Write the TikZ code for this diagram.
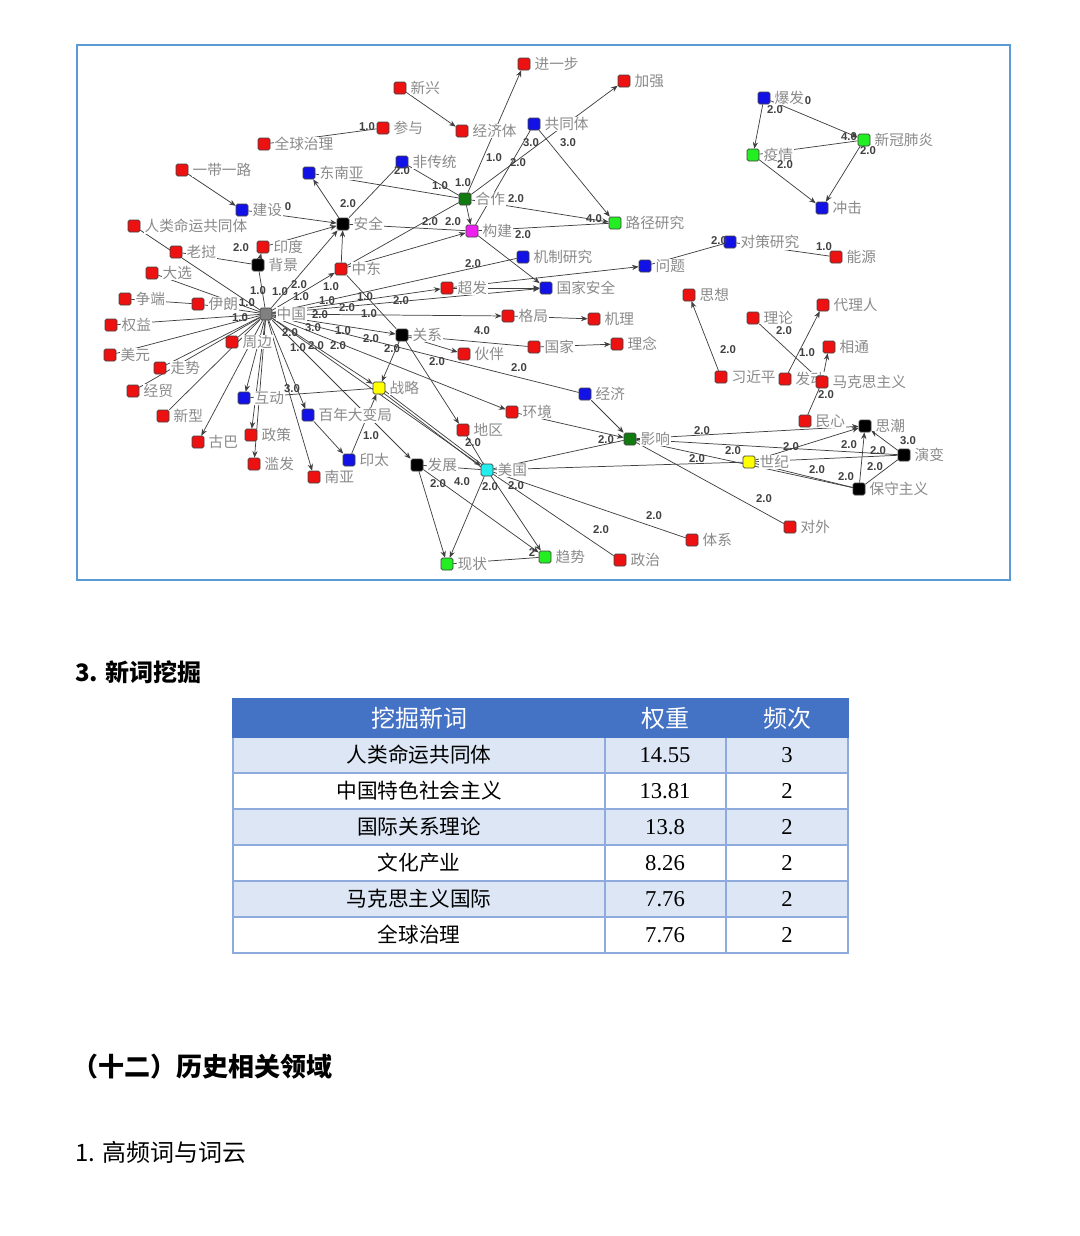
\documentclass[tikz,border=0pt]{standalone}
\usepackage{fontspec}
\setmainfont{Liberation Serif}
\newfontfamily\cjk{Noto Sans CJK SC}
\newfontfamily\wtf{Liberation Sans}
\usetikzlibrary{arrows.meta}
\definecolor{nred}{HTML}{EE1111}
\definecolor{nblue}{HTML}{1212E6}
\definecolor{ngreen}{HTML}{22EE22}
\definecolor{ndgreen}{HTML}{117A11}
\definecolor{nmag}{HTML}{EE22EE}
\definecolor{nblack}{HTML}{000000}
\definecolor{ngray}{HTML}{808080}
\definecolor{nyel}{HTML}{FFFF00}
\definecolor{ncyan}{HTML}{22EEEE}
\definecolor{framec}{HTML}{5B9BD5}
\definecolor{thead}{HTML}{4472C4}
\definecolor{tlight}{HTML}{DCE6F4}
\definecolor{tline}{HTML}{8FAADC}
\definecolor{lblc}{HTML}{8A8A8A}
\definecolor{edc}{HTML}{404040}
\pgfdeclarelayer{bg}\pgfdeclarelayer{lab}\pgfsetlayers{bg,lab,main}
\tikzset{
 nsq/.style={rectangle, rounded corners=1.2pt, minimum size=9pt, inner sep=0pt, draw=black!75, line width=0.5pt},
 lbl/.style={anchor=west, font=\cjk\fontsize{11pt}{11pt}\selectfont, text=lblc, fill=white, inner sep=0.5pt},
 wt/.style={font=\wtf\bfseries\fontsize{8.5pt}{8.5pt}\selectfont, text=black!75, inner sep=0pt},
 ed/.style={draw=edc, line width=0.55pt},
 ar/.style={ed, -{Stealth[length=5pt,width=4pt]}},
 hd/.style={anchor=west, font=\cjk\bfseries\fontsize{18pt}{18pt}\selectfont, inner sep=0pt},
 th/.style={font=\cjk\fontsize{18pt}{18pt}\selectfont, text=white, inner sep=0pt},
 tc/.style={font=\cjk\fontsize{15.5pt}{16pt}\selectfont, inner sep=0pt},
 tn/.style={font=\fontsize{17pt}{17pt}\selectfont, inner sep=0pt},
}
\newcommand\mknode[5]{%
 \node[nsq,fill=#4] (#1) at (#2,#3) {};
 \begin{pgfonlayer}{lab}\node[lbl] (#1-t) at ([xshift=2.5pt]#1.east) {#5};\end{pgfonlayer}}
\newcommand\Ed[2]{\draw[ed] (#1) -- (#2);}
\newcommand\Ar[2]{\draw[ar] (#1) -- (#2);}
\newcommand\Wt[4]{\node[wt] (#1) at (#2,#3) {#4};}
\begin{document}
\begin{tikzpicture}[x=0.75pt,y=-0.75pt]
\useasboundingbox (0,0) rectangle (1080,1236);
\draw[framec, line width=1.5pt] (77,45) rectangle (1010,580);
% red nodes
\mknode{xinxing}{400}{88}{nred}{新兴}
\mknode{jinyibu}{524}{64}{nred}{进一步}
\mknode{jiaqiang}{624}{81}{nred}{加强}
\mknode{canyu}{383}{128}{nred}{参与}
\mknode{jjt}{462}{131}{nred}{经济体}
\mknode{qqzl}{264}{144}{nred}{全球治理}
\mknode{ydyl}{182}{170}{nred}{一带一路}
\mknode{rlmy}{134}{226}{nred}{人类命运共同体}
\mknode{laowo}{176}{252}{nred}{老挝}
\mknode{yindu}{263}{247}{nred}{印度}
\mknode{daxuan}{152}{273}{nred}{大选}
\mknode{zhongdong}{341}{269}{nred}{中东}
\mknode{zhengduan}{125}{299}{nred}{争端}
\mknode{yilang}{198}{304}{nred}{伊朗}
\mknode{chaofa}{447}{288}{nred}{超发}
\mknode{quanyi}{111}{325}{nred}{权益}
\mknode{geju}{508}{316}{nred}{格局}
\mknode{jili}{594}{319}{nred}{机理}
\mknode{zhoubian}{232}{342}{nred}{周边}
\mknode{meiyuan}{110}{355}{nred}{美元}
\mknode{huoban}{464}{354}{nred}{伙伴}
\mknode{guojia}{534}{347}{nred}{国家}
\mknode{linian}{617}{344}{nred}{理念}
\mknode{zoushi}{160}{368}{nred}{走势}
\mknode{jingmao}{133}{391}{nred}{经贸}
\mknode{xinxing2}{163}{416}{nred}{新型}
\mknode{guba}{198}{442}{nred}{古巴}
\mknode{zhengce}{251}{435}{nred}{政策}
\mknode{lanfa}{254}{464}{nred}{滥发}
\mknode{nanya}{314}{477}{nred}{南亚}
\mknode{diqu}{463}{430}{nred}{地区}
\mknode{huanjing}{512}{412}{nred}{环境}
\mknode{tixi}{692}{540}{nred}{体系}
\mknode{zhengzhi}{620}{560}{nred}{政治}
\mknode{duiwai}{790}{527}{nred}{对外}
\mknode{nengyuan}{836}{257}{nred}{能源}
\mknode{sixiang}{689}{295}{nred}{思想}
\mknode{dailiren}{823}{305}{nred}{代理人}
\mknode{lilun}{753}{318}{nred}{理论}
\mknode{xiangtong}{829}{347}{nred}{相通}
\mknode{xjp}{721}{377}{nred}{习近平}
\mknode{fadong}{785}{379}{nred}{发动}
\mknode{mkszy}{822}{382}{nred}{马克思主义}
\mknode{minxin}{805}{421}{nred}{民心}
% blue nodes
\mknode{gongtongti}{534}{124}{nblue}{共同体}
\mknode{feichuantong}{402}{162}{nblue}{非传统}
\mknode{dongnanya}{309}{173}{nblue}{东南亚}
\mknode{jianshe}{242}{210}{nblue}{建设}
\mknode{jzyj}{523}{257}{nblue}{机制研究}
\mknode{wenti}{645}{266}{nblue}{问题}
\mknode{gjaq}{546}{288}{nblue}{国家安全}
\mknode{jingji}{585}{394}{nblue}{经济}
\mknode{hudong}{244}{398}{nblue}{互动}
\mknode{bndbj}{308}{415}{nblue}{百年大变局}
\mknode{yintai}{349}{460}{nblue}{印太}
\mknode{baofa}{764}{98}{nblue}{爆发}
\mknode{chongji}{822}{208}{nblue}{冲击}
\mknode{dcyj}{730}{242}{nblue}{对策研究}
% green nodes
\mknode{ljyj}{615}{223}{ngreen}{路径研究}
\mknode{yiqing}{753}{155}{ngreen}{疫情}
\mknode{xgfy}{864}{140}{ngreen}{新冠肺炎}
\mknode{xianzhuang}{447}{564}{ngreen}{现状}
\mknode{qushi}{545}{557}{ngreen}{趋势}
% other colours
\mknode{hezuo}{465}{199}{ndgreen}{合作}
\mknode{yingxiang}{630}{439}{ndgreen}{影响}
\mknode{goujian}{472}{231}{nmag}{构建}
\mknode{anquan}{343}{224}{nblack}{安全}
\mknode{beijing}{258}{265}{nblack}{背景}
\mknode{guanxi}{402}{335}{nblack}{关系}
\mknode{fazhan}{417}{465}{nblack}{发展}
\mknode{sichao}{865}{426}{nblack}{思潮}
\mknode{yanbian}{904}{455}{nblack}{演变}
\mknode{bszy}{859}{489}{nblack}{保守主义}
\mknode{zhongguo}{266}{314}{ngray}{中国}
\mknode{zhanlue}{379}{388}{nyel}{战略}
\mknode{shiji}{749}{462}{nyel}{世纪}
\mknode{meiguo}{487}{470}{ncyan}{美国}
% edges
\begin{pgfonlayer}{bg}
\Ar{xinxing}{jjt}
\Ar{hezuo}{jinyibu}
\Ar{hezuo}{jiaqiang}
\Ed{goujian}{gongtongti}
\Ar{gongtongti}{ljyj}
\Ar{hezuo}{ljyj}
\Ed{goujian}{ljyj}
\Ed{feichuantong}{hezuo}
\Ed{anquan}{feichuantong}
\Ed{dongnanya}{hezuo}
\Ar{anquan}{dongnanya}
\Ar{ydyl}{jianshe}
\Ar{jianshe}{anquan}
\Ed{anquan}{goujian}
\Ed{zhongdong}{hezuo}
\Ar{zhongdong}{goujian}
\Ar{goujian}{gjaq}
\Ar{hezuo}{goujian}
\Ed{zhongguo}{jzyj}
\Ar{chaofa}{gjaq}
\Ar{chaofa}{wenti}
\Ar{zhongguo}{chaofa}
\Ar{zhongguo}{gjaq}
\Ar{zhongguo}{geju}
\Ar{geju}{jili}
\Ed{guanxi}{guojia}
\Ar{guojia}{linian}
\Ar{guanxi}{huoban}
\Ar{zhongguo}{guanxi}
\Ar{guanxi}{zhanlue}
\Ar{guanxi}{diqu}
\Ed{zhongguo}{jingji}
\Ar{zhongguo}{huanjing}
\Ar{jingji}{yingxiang}
\Ar{huanjing}{yingxiang}
\Ed{meiguo}{yingxiang}
\Ed{meiguo}{shiji}
\Ar{yingxiang}{sichao}
\Ed{yingxiang}{yanbian}
\Ed{yingxiang}{bszy}
\Ed{yingxiang}{duiwai}
\Ar{shiji}{sichao}
\Ed{shiji}{yanbian}
\Ed{shiji}{bszy}
\Ar{bszy}{sichao}
\Ar{yanbian}{sichao}
\Ed{yanbian}{bszy}
\Ed{minxin}{mkszy}
\Ar{mkszy}{xiangtong}
\Ar{xjp}{sixiang}
\Ar{fadong}{dailiren}
\Ed{lilun}{mkszy}
\Ed{wenti}{dcyj}
\Ed{dcyj}{nengyuan}
\Ar{baofa}{yiqing}
\Ar{baofa}{xgfy}
\Ed{yiqing}{xgfy}
\Ar{yiqing}{chongji}
\Ar{xgfy}{chongji}
\Ar{meiguo}{xianzhuang}
\Ar{fazhan}{xianzhuang}
\Ar{meiguo}{qushi}
\Ar{fazhan}{qushi}
\Ed{xianzhuang}{qushi}
\Ed{meiguo}{zhengzhi}
\Ed{meiguo}{tixi}
\draw[ar] ([yshift=1.2pt]zhanlue.center) -- ([yshift=1.2pt]meiguo.center);
\draw[ar] ([yshift=-1.2pt]meiguo.center) -- ([yshift=-1.2pt]zhanlue.center);
\Ar{zhongguo}{meiguo}
\Ed{hudong}{zhanlue}
\Ar{zhongguo}{zhanlue}
\Ar{bndbj}{yintai}
\Ar{yintai}{zhanlue}
\Ar{zhongguo}{fazhan}
\Ed{diqu}{meiguo}
\Ed{fazhan}{meiguo}
\Ar{zhongguo}{hudong}
\Ar{zhongguo}{zhengce}
\Ar{zhongguo}{lanfa}
\Ar{zhongguo}{nanya}
\Ar{zhongguo}{bndbj}
\Ar{zhongguo}{guba}
\Ed{xinxing2}{zhongguo}
\Ed{jingmao}{zhongguo}
\Ed{zoushi}{zhongguo}
\Ed{meiyuan}{zhongguo}
\Ed{quanyi}{zhongguo}
\Ed{zhengduan}{yilang}
\Ed{yilang}{zhongguo}
\Ed{daxuan}{zhongguo}
\Ed{laowo}{beijing}
\Ed{rlmy}{zhongguo}
\Ed{beijing}{zhongguo}
\Ar{beijing}{yindu}
\Ar{yindu}{anquan}
\Ar{zhongdong}{anquan}
\Ar{zhongguo}{anquan}
\Ar{zhongguo}{zhongdong}
\Ed{zhongdong}{guanxi}
\Ed{zhoubian}{zhongguo}
\Ed{qqzl}{canyu}
\end{pgfonlayer}
% weights
\Wt{w1}{367}{127}{1.0}
\Wt{w2}{494}{158}{1.0}
\Wt{w3}{531}{143}{3.0}
\Wt{w4}{568}{143}{3.0}
\Wt{w5}{518}{163}{2.0}
\Wt{w6}{402}{171}{2.0}
\Wt{w7}{440}{186}{1.0}
\Wt{w8}{463}{183}{1.0}
\Wt{w9}{516}{199}{2.0}
\Wt{w10}{594}{219}{4.0}
\Wt{w11}{348}{204}{2.0}
\Wt{w12}{288}{207}{0}
\Wt{w13}{430}{222}{2.0}
\Wt{w14}{453}{222}{2.0}
\Wt{w15}{523}{235}{2.0}
\Wt{w16}{241}{248}{2.0}
\Wt{w17}{473}{264}{2.0}
\Wt{w18}{719}{241}{2.0}
\Wt{w19}{824}{247}{1.0}
\Wt{w20}{849}{137}{4.0}
\Wt{w21}{868}{151}{2.0}
\Wt{w22}{775}{110}{2.0}
\Wt{w23}{808}{101}{0}
\Wt{w24}{785}{165}{2.0}
\Wt{w25}{784}{331}{2.0}
\Wt{w26}{728}{350}{2.0}
\Wt{w27}{807}{353}{1.0}
\Wt{w28}{826}{395}{2.0}
\Wt{w29}{258}{291}{1.0}
\Wt{w30}{280}{292}{1.0}
\Wt{w31}{299}{285}{2.0}
\Wt{w32}{301}{297}{1.0}
\Wt{w33}{331}{287}{1.0}
\Wt{w34}{247}{303}{1.0}
\Wt{w35}{240}{318}{1.0}
\Wt{w36}{320}{315}{2.0}
\Wt{w37}{327}{301}{1.0}
\Wt{w38}{347}{308}{2.0}
\Wt{w39}{365}{297}{1.0}
\Wt{w40}{369}{314}{1.0}
\Wt{w41}{401}{301}{2.0}
\Wt{w42}{313}{328}{3.0}
\Wt{w43}{343}{331}{1.0}
\Wt{w44}{371}{339}{2.0}
\Wt{w45}{290}{333}{2.0}
\Wt{w46}{298}{348}{1.0}
\Wt{w47}{316}{346}{2.0}
\Wt{w48}{338}{346}{2.0}
\Wt{w49}{392}{349}{2.0}
\Wt{w50}{437}{362}{2.0}
\Wt{w51}{519}{368}{2.0}
\Wt{w52}{482}{331}{4.0}
\Wt{w53}{292}{389}{3.0}
\Wt{w54}{371}{436}{1.0}
\Wt{w55}{473}{443}{2.0}
\Wt{w56}{438}{484}{2.0}
\Wt{w57}{462}{482}{4.0}
\Wt{w58}{490}{487}{2.0}
\Wt{w59}{516}{486}{2.0}
\Wt{w60}{532}{553}{2}
\Wt{w61}{601}{530}{2.0}
\Wt{w62}{654}{516}{2.0}
\Wt{w63}{606}{440}{2.0}
\Wt{w64}{702}{431}{2.0}
\Wt{w65}{733}{451}{2.0}
\Wt{w66}{697}{459}{2.0}
\Wt{w67}{791}{447}{2.0}
\Wt{w68}{817}{470}{2.0}
\Wt{w69}{846}{477}{2.0}
\Wt{w70}{849}{445}{2.0}
\Wt{w71}{878}{451}{2.0}
\Wt{w72}{875}{467}{2.0}
\Wt{w73}{908}{441}{3.0}
\Wt{w74}{764}{499}{2.0}
% headings
\node[hd] (h1) at (75,672) {3. 新词挖掘};
\node[hd, font=\cjk\bfseries\fontsize{19.5pt}{20pt}\selectfont] (h2) at (72,1067) {（十二）历史相关领域};
\node[hd, font=\cjk\fontsize{18pt}{18pt}\selectfont] (h3) at (75,1152) {1. 高频词与词云};
% table
\fill[thead] (233,699) rectangle (848,737);
\fill[tlight] (233,737) rectangle (848,773);
\fill[tlight] (233,809) rectangle (848,845);
\fill[tlight] (233,881) rectangle (848,917);
\draw[tline, line width=1.3pt] (233,737) rectangle (848,953);
\foreach \yy in {773,809,845,881,917} {\draw[tline, line width=1.3pt] (233,\yy) -- (848,\yy);}
\foreach \xx in {605,726} {\draw[tline, line width=1.3pt] (\xx,737) -- (\xx,953);}
\draw[thead, line width=1.3pt] (233,699) rectangle (848,737);
\node[th] (th1) at (419,718) {挖掘新词};
\node[th] (th2) at (665,718) {权重};
\node[th] (th3) at (787,718) {频次};
\node[tc] (r1a) at (419,755) {人类命运共同体};
\node[tn] (r1b) at (665,755) {14.55};
\node[tn] (r1c) at (787,755) {3};
\node[tc] (r2a) at (419,791) {中国特色社会主义};
\node[tn] (r2b) at (665,791) {13.81};
\node[tn] (r2c) at (787,791) {2};
\node[tc] (r3a) at (419,827) {国际关系理论};
\node[tn] (r3b) at (665,827) {13.8};
\node[tn] (r3c) at (787,827) {2};
\node[tc] (r4a) at (419,863) {文化产业};
\node[tn] (r4b) at (665,863) {8.26};
\node[tn] (r4c) at (787,863) {2};
\node[tc] (r5a) at (419,899) {马克思主义国际};
\node[tn] (r5b) at (665,899) {7.76};
\node[tn] (r5c) at (787,899) {2};
\node[tc] (r6a) at (419,935) {全球治理};
\node[tn] (r6b) at (665,935) {7.76};
\node[tn] (r6c) at (787,935) {2};
\end{tikzpicture}
\end{document}
